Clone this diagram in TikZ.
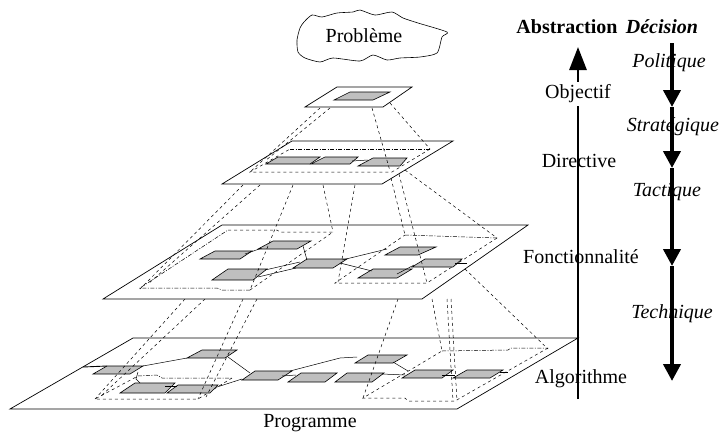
\documentclass[tikz,border=0pt]{standalone}
\usepackage{fontspec}
\setmainfont{Liberation Serif}
\usetikzlibrary{arrows.meta}

\begin{document}
\begin{tikzpicture}[x=1pt,y=-1pt,
    plane/.style={draw,fill=white,line width=0.7pt},
    box/.style={draw,fill=black!25,line width=0.6pt},
    proj/.style={dashed,line width=0.5pt},
    zone/.style={dash pattern=on 4pt off 1.5pt on 1pt off 1.5pt,line width=0.5pt},
    wire/.style={line width=0.5pt},
    lbl/.style={font=\fontsize{20}{24}\selectfont,inner sep=1pt},
    absarrow/.style={line width=2.8pt,-{Triangle[width=17pt,length=23pt]}},
    decarrow/.style={line width=4pt,-{Triangle[width=17pt,length=17pt]}}]
        \useasboundingbox (0,0) rectangle (721,432);
        % Problem
        \draw [line width=0.6pt] plot [smooth cycle,tension=0.4] coordinates {
            (297,40) (300,28) (304,22) (312,15) (322,17) (337,13) (353,12)
            (360,10) (375,15) (392,12) (403,18) (418,23) (447,32) (442,37)
            (437,53) (420,57) (400,58) (387,60) (373,55) (360,61) (333,58)
            (320,62) (305,58) (298,52)};
        \node[lbl] (problem) at (364,36) {Problème};
        % Ebene 4: Algorithme
        \draw [plane] (10,409) -- (457,409) -- (578,338) -- (133,338) -- cycle;
        \draw [zone] (138,376) -- (157,375) -- (162,378) -- (232,378);
        \draw [proj] (232,378) -- (198,399) -- (95,399) -- (138,376);
        \draw [zone] (442,351) -- (508,350) -- (511,348) -- (548,348);
        \draw [proj] (548,348) -- (455,401) -- (408,401) -- (405,398) -- (363,398) -- (442,351);
        \draw [box] (93,374) -- (130,374) -- (143,366) -- (107,366) -- cycle;
        \draw [box] (120,393) -- (165,393) -- (175,383) -- (135,383) -- cycle;
        \draw [box] (167,393) -- (210,393) -- (218,385) -- (178,385) -- cycle;
        \draw [box] (187,358) -- (225,358) -- (237,350) -- (202,350) -- cycle;
        \draw [box] (242,380) -- (278,380) -- (292,371) -- (255,371) -- cycle;
        \draw [box] (288,382) -- (325,382) -- (337,373) -- (301,373) -- cycle;
        \draw [box] (335,382) -- (372,382) -- (384,373) -- (347,373) -- cycle;
        \draw [box] (355,363) -- (393,363) -- (407,355) -- (368,355) -- cycle;
        \draw [box] (402,378) -- (442,378) -- (453,370) -- (415,370) -- cycle;
        \draw [box] (453,378) -- (490,378) -- (503,370) -- (467,370) -- cycle;
        \draw [line width=0.9pt] (83,367) -- (107,366);
        \draw [wire] (143,366) -- (187,358);
        \draw [wire] (138,372) -- (136,379) -- (140,383);
        \draw [line width=0.9pt] (165,386) -- (177,386);
        \draw [wire] (228,357) -- (250,373);
        \draw [wire] (217,387) -- (242,379);
        \draw [wire] (282,376) -- (296,375);
        \draw [wire] (290,371) -- (340,358) -- (357,357);
        \draw [wire] (382,374) -- (405,375);
        \draw [wire] (393,362) -- (408,371);
        \draw [wire] (442,375) -- (455,375);
        \draw [wire] (500,372) -- (508,372);
        % Projektion 3 -> 4
        \draw [proj] (185,299) -- (95,399);
        \draw [proj] (205,299) -- (100,397);
        \draw [proj] (243,299) -- (198,399);
        \draw [proj] (257,299) -- (206,397);
        \draw [proj] (398,299) -- (363,398);
        \draw [proj] (432,299) -- (442,351);
        \draw [proj] (447,299) -- (453,401);
        \draw [proj] (451,299) -- (457,401);
        \draw [proj] (465,269) -- (548,349);
        % Ebene 3: Fonctionnalite
        \draw [plane] (103,299) -- (422,299) -- (528,225) -- (222,225) -- cycle;
        \draw [proj] (228,230) -- (277,230) -- (280,232) -- (333,232) -- (250,290);
        \draw [zone] (250,290) -- (222,290) -- (217,288) -- (140,288) -- (228,230);
        \draw [zone] (405,235) -- (497,238);
        \draw [proj] (497,238) -- (427,283) -- (335,283) -- (405,235);
        \draw [box] (200,259) -- (240,259) -- (252,251) -- (215,251) -- cycle;
        \draw [box] (212,280) -- (253,280) -- (267,269) -- (228,269) -- cycle;
        \draw [box] (258,249) -- (297,249) -- (311,241) -- (273,241) -- cycle;
        \draw [box] (293,268) -- (333,268) -- (347,259) -- (307,259) -- cycle;
        \draw [box] (358,278) -- (397,278) -- (412,269) -- (373,269) -- cycle;
        \draw [box] (385,255) -- (418,255) -- (436,247) -- (400,247) -- cycle;
        \draw [box] (412,267) -- (453,267) -- (462,259) -- (425,259) -- cycle;
        \draw [wire] (245,254) -- (262,248);
        \draw [wire] (303,246) -- (307,260);
        \draw [wire] (265,270) -- (300,262);
        \draw [wire] (258,277) -- (296,268);
        \draw [wire] (342,260) -- (387,249);
        \draw [wire] (340,263) -- (372,271);
        \draw [wire] (397,274) -- (414,265);
        \draw [wire] (455,263) -- (467,263);
        % Projektion 2 -> 3
        \draw [proj] (243,185) -- (140,289);
        \draw [proj] (260,185) -- (148,284);
        \draw [proj] (293,185) -- (250,290);
        \draw [proj] (323,185) -- (333,232);
        \draw [proj] (355,185) -- (338,282);
        \draw [proj] (391,178) -- (405,235);
        \draw [proj] (399,174) -- (427,283);
        \draw [proj] (405,170) -- (497,238);
        % Ebene 2: Directive
        \draw [plane] (222,184) -- (382,184) -- (453,141) -- (292,141) -- cycle;
        \draw [zone] (290,149) -- (430,149);
        \draw [proj] (430,149) -- (392,172) -- (250,172) -- (290,149);
        \draw [box] (266,164) -- (310,164) -- (320,157) -- (278,157) -- cycle;
        \draw [box] (311,164) -- (350,164) -- (358,157) -- (325,157) -- cycle;
        \draw [box] (358,166) -- (400,166) -- (407,158) -- (373,158) -- cycle;
        \draw [wire] (352,161) -- (368,160);
        % Projektion 1 -> 2
        \draw [proj] (320,108) -- (250,172);
        \draw [proj] (330,108) -- (265,161);
        \draw [proj] (372,108) -- (390,171);
        \draw [proj] (390,103) -- (430,149);
        % Ebene 1: Objectif
        \draw [plane] (305,107) -- (383,107) -- (412,87) -- (337,87) -- cycle;
        \draw [box] (334,100) -- (373,100) -- (390,92) -- (350,92) -- cycle;
        \node[lbl] (programme) at (310,423) {Programme};
        % Achse Abstraction
        \coordinate (a0) at (578,399);
        \coordinate (a1) at (578,47);
        \draw [absarrow] (a0) -- (a1);
        \node[lbl] (abstraction) at (567,27) {\textbf{Abstraction}};
        \node[lbl,fill=white,inner sep=3pt] (objectif) at (578,94) {Objectif};
        \node[lbl] (directive) at (579,161) {Directive};
        \node[lbl] (fonction) at (581,257) {Fonctionnalité};
        \node[lbl] (algo) at (581,379) {Algorithme};
        % Achse Decision
        \coordinate (d0) at (672,43);
        \coordinate (d1) at (672,107);
        \coordinate (d2) at (672,168);
        \coordinate (d3) at (672,266);
        \coordinate (d4) at (672,381);
        \draw [decarrow] (d0) -- (d1);
        \draw [decarrow] (d1) -- (d2);
        \draw [decarrow] (d2) -- (d3);
        \draw [decarrow] (d3) -- (d4);
        \node[lbl] (decision) at (662,27) {\textbf{\textit{Décision}}};
        \node[lbl] (politique) at (669,63) {\textit{Politique}};
        \node[lbl] (strategique) at (673,127) {\textit{Stratégique}};
        \node[lbl] (tactique) at (667,192) {\textit{Tactique}};
        \node[lbl] (technique) at (672,314) {\textit{Technique}};
    \end{tikzpicture}
\end{document}
